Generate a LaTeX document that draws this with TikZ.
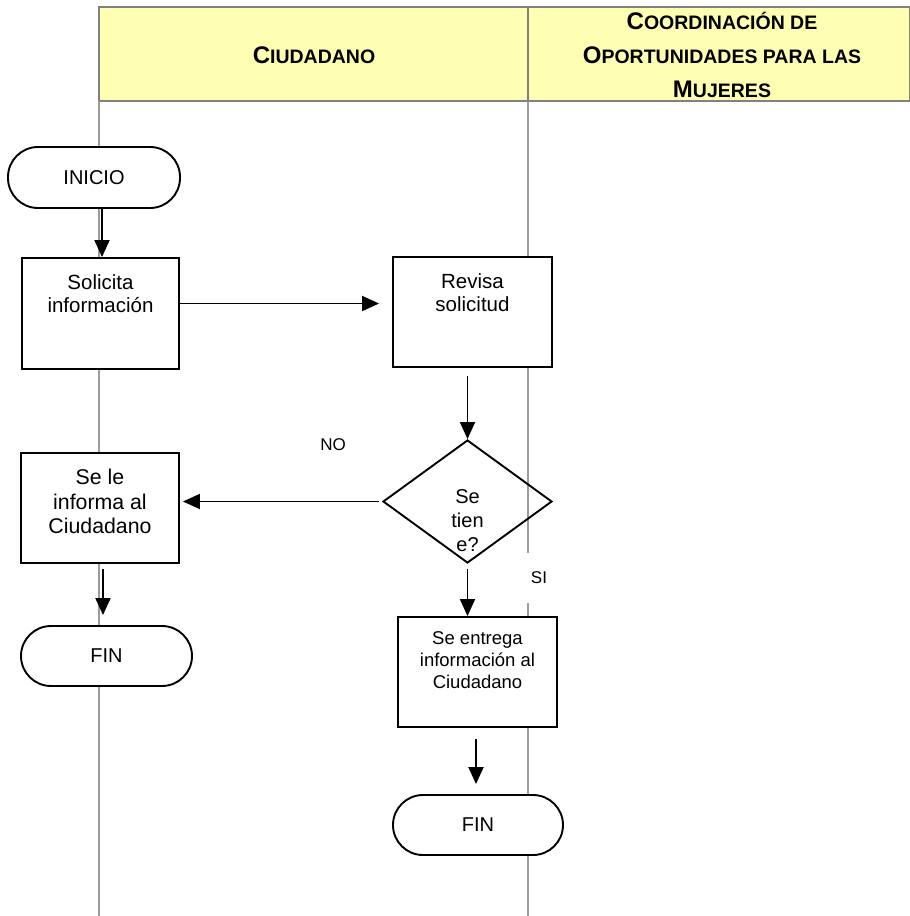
\documentclass[tikz,border=0pt]{standalone}
\usepackage{fontspec}
\setmainfont{Liberation Sans}
\usetikzlibrary{shapes.geometric,arrows.meta,positioning}
\definecolor{lanegray}{RGB}{155,155,155}
\definecolor{headgray}{RGB}{128,128,128}
\definecolor{headyellow}{RGB}{255,255,180}
\newcommand{\hdcaps}[2]{{\fontsize{24}{34}\selectfont #1}{\fontsize{19.5}{34}\selectfont #2}}
\tikzset{
    x=1pt, y=-1pt,
    flow/.style={-{Triangle[length=17pt,width=15pt]}},
    term/.style={rectangle, rounded corners=30pt, draw, fill=white, minimum height=61pt, inner sep=0pt, font=\fontsize{20}{23}\selectfont},
    proc/.style={rectangle, draw, fill=white, minimum width=158pt, minimum height=110pt, inner sep=0pt},
    decision/.style={diamond, draw, minimum width=169pt, minimum height=123pt, inner sep=0pt},
    txt/.style={align=center, font=\fontsize{20.5}{23.5}\selectfont},
    lane/.style={lanegray, line width=2.5pt},
    el/.style={font=\fontsize{17}{20}\selectfont, inner sep=2pt}
}
\begin{document}
\begin{tikzpicture}[line width=1.9pt]
    \useasboundingbox (0,0) rectangle (910,916);
    % swimlanes
    \draw[headgray, fill=headyellow] (99,7) rectangle (910,101);
    \draw[headgray] (528,7) -- (528,101);
    \draw[lane] (99,101) -- (99,916);
    \draw[lane] (528,101) -- (528,916);
    \node[font=\bfseries] (hcit) at (314,55) {\hdcaps{C}{IUDADANO}};
    \node[align=center, font=\fontsize{19.5}{34}\selectfont\bfseries] (hcoord) at (722,55)
        {\hdcaps{C}{OORDINACIÓN DE}\\\hdcaps{O}{PORTUNIDADES PARA LAS}\\\hdcaps{M}{UJERES}};

    % steps
    \node[term, minimum width=172pt] (ini) at (94,177.5) {INICIO};
    \node[proc, minimum width=157pt, minimum height=111pt,
        label={[txt, anchor=north, yshift=-13pt]north:Solicita\\información}] (sol) at (100.5,313.5) {};
    \node[proc, minimum width=159pt,
        label={[txt, anchor=north, yshift=-13pt]north:Revisa\\solicitud}] (rev) at (472.5,312) {};
    \node[decision, label={[txt, anchor=center, yshift=-19pt, font=\fontsize{20}{24}\selectfont]center:Se\\tien\\e?}] (dec) at (467.5,501.5) {};
    \node[proc, label={[txt, anchor=north, yshift=-13pt, font=\fontsize{21.3}{24.5}\selectfont]north:Se le\\informa al\\Ciudadano}] (info) at (100,508) {};
    \node[term, minimum width=171pt, minimum height=60pt] (fin1) at (106.5,656) {FIN};
    \node[proc, minimum width=159pt,
        label={[txt, anchor=north, yshift=-11pt, font=\fontsize{18.5}{22}\selectfont]north:Se entrega\\información al\\Ciudadano}] (ent) at (477.5,672) {};
    \node[term, minimum width=170pt, minimum height=60pt] (fin2) at (478,825) {FIN};
    \node[el] (no) at (333,445) {NO};
    \node[el, fill=white, minimum height=50pt, inner xsep=6pt] (si) at (539,578) {SI};

    \path[flow] ([xshift=8pt]ini.south) edge ([xshift=8pt]ini.south |- sol.north);
    \path[flow] ([yshift=10pt]sol.east) edge[shorten >=13pt] ([yshift=10pt]sol.east -| rev.west);
    \path[flow] (rev.south -| dec.north) edge[shorten <=8pt] (dec.north);
    \path[flow] (dec.west) edge[shorten <=3pt, shorten >=3pt] (dec.west -| info.east);
    \path[flow] ([xshift=3pt]info.south) edge[shorten <=5pt, shorten >=10pt] ([xshift=3pt]info.south |- fin1.north);
    \path[flow] (dec.south) edge[shorten <=5pt] (dec.south |- ent.north);
    \path[flow] ([xshift=-1.5pt]ent.south) edge[shorten <=11pt, shorten >=10pt] ([xshift=-1.5pt]ent.south |- fin2.north);
\end{tikzpicture}
\end{document}
